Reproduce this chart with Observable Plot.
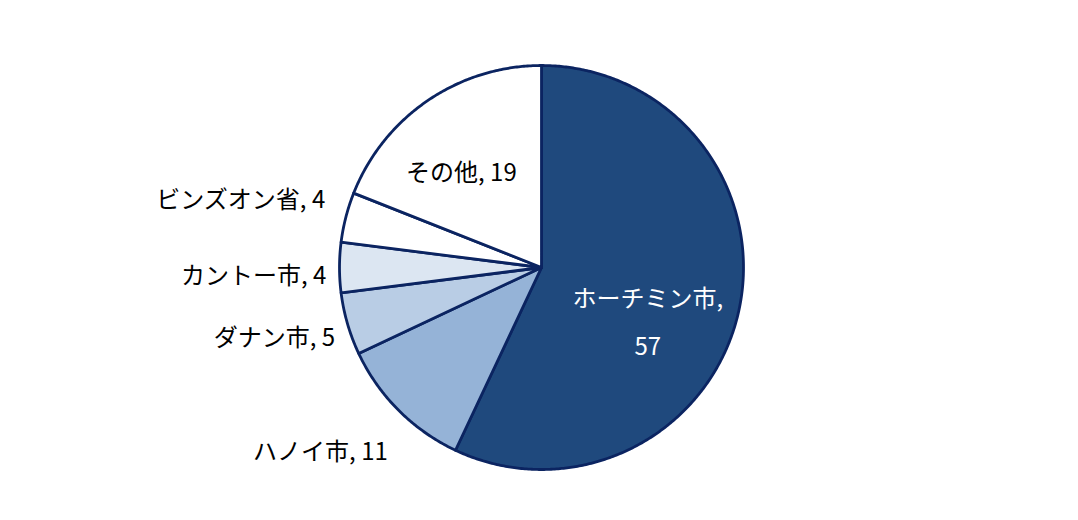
<!DOCTYPE html>
<html>
<head>
<meta charset="utf-8">
<script src="https://cdn.jsdelivr.net/npm/d3@7"></script>
<script src="https://cdn.jsdelivr.net/npm/@observablehq/plot@0.6"></script>
<style>
  html, body { margin: 0; padding: 0; background: #fff; }
  #chart { width: 1078px; height: 520px; }
</style>
</head>
<body>
<div id="chart"></div>
<script>
// Data (clockwise from 12 o'clock)
const names = ["ホーチミン市", "ハノイ市", "ダナン市", "カントー市", "ビンズオン省", "その他"];
const values = [57, 11, 5, 4, 4, 19];
const colors = ["#1F497D", "#95B3D7", "#B9CDE5", "#DCE6F2", "#FFFFFF", "#FFFFFF"];
const insideLabel = [true, false, false, false, false, true];

// Build slice polygons from the values
const total = d3.sum(values);
const polys = [];
const labels = [];
let cum = 0;
values.forEach((v, i) => {
  const a0 = cum / total * 2 * Math.PI;
  const a1 = (cum + v) / total * 2 * Math.PI;
  cum += v;
  polys.push({name: names[i], x: 0, y: 0});
  const n = Math.max(2, Math.ceil((a1 - a0) / (Math.PI / 360)));
  for (let j = 0; j <= n; j++) {
    const a = a0 + (a1 - a0) * j / n;
    polys.push({name: names[i], x: Math.sin(a), y: Math.cos(a)});
  }
  polys.push({name: names[i], x: 0, y: 0});
  const am = (a0 + a1) / 2;
  const r = insideLabel[i] ? 0.6 : 1.09;
  const text = insideLabel[i] && v > 30 ? `${names[i]},\n${v}` : `${names[i]}, ${v}`;
  labels.push({name: names[i], x: Math.sin(am) * r, y: Math.cos(am) * r, text, inside: insideLabel[i], dark: i === 0});
});

// Label nudges (layout tweaks to mimic the spreadsheet's best-fit placement)
const nudge = {"ホーチミン市": [-12, 22], "その他": [-12, -2], "ビンズオン省": [-3, -20], "カントー市": [5, 1], "ダナン市": [5, 2], "ハノイ市": [2, 21]};

const font = "'Noto Sans CJK JP', 'Noto Sans', sans-serif";
const chart = Plot.plot({
  width: 1078,
  height: 520,
  margin: 0,
  x: {domain: [-541 / 202, 537 / 202], axis: null},
  y: {domain: [-253 / 202, 267 / 202], axis: null},
  color: {domain: names, range: colors},
  style: {fontFamily: font, background: "#fff"},
  marks: [
    Plot.line(polys, {x: "x", y: "y", z: "name", fill: "name", stroke: "#0B2461", strokeWidth: 2.8, strokeLinejoin: "round", curve: "linear"}),
    ...labels.map(d => Plot.text([d], {
      x: "x", y: "y", text: "text", fontSize: 24, lineHeight: 2.0,
      textAnchor: d.inside ? "middle" : "end",
      fill: d.dark ? "#fff" : "#000",
      dx: nudge[d.name][0], dy: nudge[d.name][1]
    }))
  ]
});
document.getElementById("chart").appendChild(chart);
</script>
</body>
</html>
